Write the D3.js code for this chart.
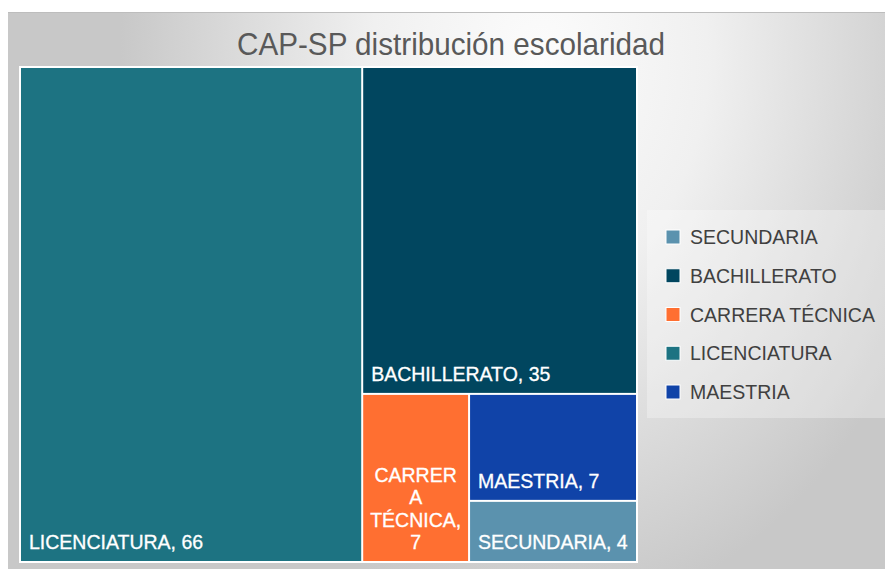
<!DOCTYPE html>
<html lang="es">
<head>
    <meta charset="UTF-8">
    <title>CAP-SP distribución escolaridad</title>
    <style>
        body { margin: 0; padding: 0; background: #fff; }
        svg { display: block; font-family: "Liberation Sans", Arial, sans-serif; }
    </style>
</head>
<body>
    <div id="chart"></div>

    <script src="https://d3js.org/d3.v7.min.js"></script>
    <script>
        // Data
        const categories = ["SECUNDARIA", "BACHILLERATO", "CARRERA TÉCNICA", "LICENCIATURA", "MAESTRIA"];
        const values = [4, 35, 7, 66, 7];
        const colors = ["#5b92ae", "#01465f", "#ff6f31", "#1d7382", "#1043a8"];

        const width = 885, height = 569;
        const svg = d3.select("#chart").append("svg")
            .attr("width", width).attr("height", height);

        // background card with gradient
        const defs = svg.append("defs");
        const grad = defs.append("radialGradient")
            .attr("id", "bg")
            .attr("gradientUnits", "userSpaceOnUse")
            .attr("cx", 540).attr("cy", 60).attr("r", 420)
            .attr("gradientTransform", "translate(540,60) scale(1,1.33) translate(-540,-60)");
        grad.append("stop").attr("offset", 0).attr("stop-color", "#fcfcfc");
        grad.append("stop").attr("offset", 0.4).attr("stop-color", "#f0f0f0");
        grad.append("stop").attr("offset", 1).attr("stop-color", "#c8c8c8");

        svg.append("rect")
            .attr("x", 8).attr("y", 12)
            .attr("width", width - 8).attr("height", height - 12)
            .attr("fill", "url(#bg)");
        svg.append("line")
            .attr("x1", 8).attr("x2", width).attr("y1", 12.5).attr("y2", 12.5)
            .attr("stroke", "#bdbdbd");

        // title
        svg.append("text")
            .attr("x", 451).attr("y", 55)
            .attr("text-anchor", "middle")
            .attr("font-size", 32)
            .attr("fill", "#595959")
            .attr("textLength", 428)
            .attr("lengthAdjust", "spacingAndGlyphs")
            .text("CAP-SP distribución escolaridad");

        // treemap
        const plotX = 19, plotY = 66, plotW = 619, plotH = 497;
        const color = d3.scaleOrdinal().domain(categories).range(colors);

        const root = d3.hierarchy({ children: categories.map((c, i) => ({ name: c, value: values[i] })) })
            .sum(d => d.value || 0)
            .sort((a, b) => b.value - a.value);

        d3.treemap()
            .tile(d3.treemapSquarify.ratio(1))
            .size([plotW, plotH])
            .paddingOuter(2)
            .paddingInner(2)(root);

        const plot = svg.append("g").attr("transform", `translate(${plotX},${plotY})`);
        plot.append("rect")
            .attr("width", plotW).attr("height", plotH)
            .attr("fill", "#fff");

        const cell = plot.selectAll("g.cell")
            .data(root.leaves())
            .enter().append("g")
            .attr("class", "cell");

        cell.append("rect")
            .attr("x", d => d.x0).attr("y", d => d.y0)
            .attr("width", d => d.x1 - d.x0)
            .attr("height", d => d.y1 - d.y0)
            .attr("fill", d => color(d.data.name));

        // labels, wrapped when the cell is too narrow
        const fontSize = 19.5, lineH = 22.5;
        const measure = svg.append("text").attr("font-size", fontSize).attr("visibility", "hidden");
        function textW(s) { measure.text(s); return measure.node().getComputedTextLength(); }

        function wrap(label, maxW) {
            const words = label.split(" ");
            const lines = [];
            let line = "";
            words.forEach(w => {
                const test = line ? line + " " + w : w;
                if (textW(test) <= maxW) { line = test; return; }
                if (line) lines.push(line);
                line = "";
                // break a word that is too long
                let part = "";
                for (const ch of w) {
                    if (textW(part + ch) > maxW && part) { lines.push(part); part = ch; }
                    else part += ch;
                }
                line = part;
            });
            if (line) lines.push(line);
            return lines;
        }

        cell.each(function (d) {
            const label = `${d.data.name}, ${d.value}`;
            const w = d.x1 - d.x0;
            const g = d3.select(this);
            const t = g.append("text")
                .attr("font-size", fontSize)
                .attr("fill", "#fff")
                .attr("stroke", "#fff")
                .attr("stroke-width", 0.3);
            if (textW(label) <= w - 12) {
                t.attr("x", d.x0 + 8).attr("y", d.y1 - 12).text(label);
            } else {
                const lines = wrap(label, w - 12);
                const cx = (d.x0 + d.x1) / 2;
                t.attr("text-anchor", "middle");
                lines.forEach((l, i) => {
                    t.append("tspan")
                        .attr("x", cx)
                        .attr("y", d.y1 - 12 - (lines.length - 1 - i) * lineH)
                        .text(l);
                });
            }
        });
        measure.remove();

        // legend
        const legend = svg.append("g");
        legend.append("rect")
            .attr("x", 647).attr("y", 210)
            .attr("width", width - 647).attr("height", 208)
            .attr("fill", "#fff").attr("fill-opacity", 0.3);

        const rowY = d3.scalePoint().domain(categories).range([237, 392]);
        const item = legend.selectAll("g.item")
            .data(categories)
            .enter().append("g")
            .attr("class", "item")
            .attr("transform", d => `translate(0,${rowY(d)})`);
        item.append("rect")
            .attr("x", 666).attr("y", -7)
            .attr("width", 14).attr("height", 14)
            .attr("fill", d => color(d))
            .attr("stroke", "#fff").attr("stroke-width", 1);
        item.append("text")
            .attr("x", 690).attr("y", 7)
            .attr("font-size", 19.5)
            .attr("fill", "#404040")
            .text(d => d);
    </script>
</body>
</html>
